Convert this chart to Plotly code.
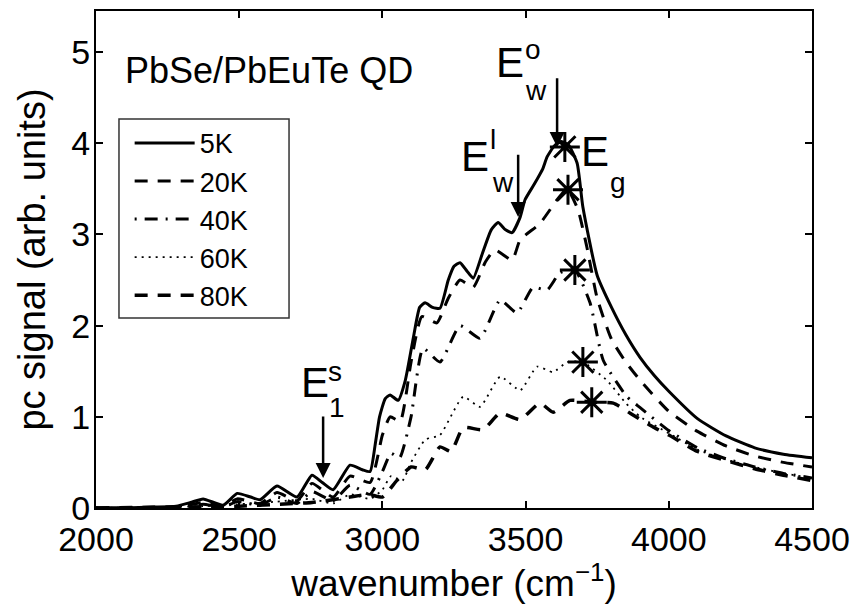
import plotly.graph_objects as go

# ---------------- data ----------------
x_5K = [2000, 2100, 2200, 2280, 2330, 2374, 2444, 2493, 2540, 2573, 2632, 2702, 2754, 2790, 2828,
        2887, 2930, 2957, 2975, 2990, 3010, 3027, 3055, 3080, 3110, 3130, 3149, 3175, 3201, 3230,
        3250, 3271, 3295, 3317, 3350, 3380, 3404, 3430, 3453, 3481, 3498, 3530, 3560, 3575, 3600,
        3625, 3650, 3680, 3700, 3750, 3800, 3850, 3900, 3950, 4000, 4100, 4200, 4300, 4400, 4500]
y_5K = [0.0, 0.0, 0.01, 0.02, 0.06, 0.10, 0.03, 0.16, 0.12, 0.09, 0.24, 0.12, 0.36, 0.28, 0.20,
        0.47, 0.42, 0.40, 0.70, 1.00, 1.20, 1.24, 1.18, 1.40, 1.90, 2.20, 2.25, 2.20, 2.19, 2.50,
        2.65, 2.69, 2.60, 2.52, 2.80, 3.05, 3.13, 3.05, 3.02, 3.19, 3.38, 3.55, 3.72, 3.85, 3.97,
        4.02, 3.98, 3.78, 3.30, 2.55, 2.20, 1.90, 1.65, 1.45, 1.28, 0.98, 0.79, 0.66, 0.59, 0.55]

x_20K = [2000, 2200, 2300, 2374, 2444, 2493, 2573, 2632, 2702, 2754, 2828, 2887, 2957, 3000, 3027,
         3062, 3100, 3138, 3190, 3230, 3271, 3317, 3360, 3393, 3453, 3481, 3550, 3610, 3645, 3683,
         3714, 3750, 3800, 3850, 3900, 4000, 4100, 4200, 4300, 4400, 4500]
y_20K = [0.0, 0.0, 0.02, 0.06, 0.02, 0.10, 0.05, 0.17, 0.08, 0.27, 0.12, 0.35, 0.28, 0.80, 1.00,
         0.95, 1.60, 2.10, 2.03, 2.30, 2.50, 2.42, 2.70, 2.83, 2.72, 2.94, 3.12, 3.38, 3.50, 3.27,
         2.86, 2.30, 1.85, 1.60, 1.40, 1.06, 0.84, 0.68, 0.57, 0.50, 0.45]

x_40K = [2000, 2300, 2374, 2444, 2493, 2573, 2632, 2702, 2754, 2828, 2887, 2957, 3000, 3030, 3060,
         3100, 3142, 3201, 3271, 3341, 3411, 3470, 3526, 3575, 3620, 3672, 3725, 3771, 3854, 3900,
         4000, 4100, 4200, 4300, 4400, 4500]
y_40K = [0.0, 0.01, 0.04, 0.01, 0.07, 0.03, 0.12, 0.05, 0.18, 0.08, 0.25, 0.15, 0.40, 0.60, 0.55,
         1.00, 1.75, 1.60, 2.00, 1.86, 2.28, 2.14, 2.42, 2.39, 2.58, 2.61, 2.25, 1.62, 1.22, 1.10,
         0.85, 0.66, 0.54, 0.45, 0.38, 0.33]

x_60K = [2000, 2374, 2493, 2632, 2754, 2828, 2887, 2957, 3000, 3030, 3070, 3100, 3150, 3201, 3282,
         3341, 3411, 3481, 3540, 3596, 3645, 3700, 3784, 3850, 3900, 4000, 4100, 4200, 4300, 4400, 4500]
y_60K = [0.0, 0.02, 0.04, 0.07, 0.10, 0.05, 0.15, 0.10, 0.20, 0.35, 0.30, 0.50, 0.75, 0.80, 1.22,
         1.11, 1.44, 1.29, 1.55, 1.49, 1.60, 1.60, 1.40, 1.15, 1.00, 0.82, 0.64, 0.53, 0.45, 0.38, 0.33]

x_80K = [2000, 2500, 2632, 2754, 2887, 2950, 3000, 3050, 3100, 3150, 3201, 3240, 3282, 3352, 3411,
         3481, 3550, 3596, 3655, 3731, 3806, 3865, 3950, 4000, 4100, 4200, 4300, 4400, 4500]
y_80K = [0.0, 0.02, 0.04, 0.06, 0.12, 0.15, 0.12, 0.30, 0.45, 0.42, 0.67, 0.62, 0.88, 0.86, 1.04,
         0.97, 1.15, 1.05, 1.18, 1.16, 1.15, 1.04, 0.88, 0.80, 0.62, 0.52, 0.43, 0.36, 0.30]

# E_g markers (stars) on each curve
eg_x = [3637, 3648, 3672, 3700, 3731]
eg_y = [3.96, 3.49, 2.61, 1.60, 1.16]

series_names = ["5K", "20K", "40K", "60K", "80K"]
x_ticks = [2000, 2500, 3000, 3500, 4000, 4500]
y_ticks = [0, 1, 2, 3, 4, 5]

# ---------------- figure ----------------
FONT = "Liberation Sans, Arial, Helvetica, sans-serif"
styles = [
    dict(width=3, dash="solid"),
    dict(width=3, dash="13px,10px"),
    dict(width=3, dash="2px,8px,13px,8px"),
    dict(width=1.8, dash="2px,5px"),
    dict(width=3.5, dash="13px,10px"),
]
xs = [x_5K, x_20K, x_40K, x_60K, x_80K]
ys = [y_5K, y_20K, y_40K, y_60K, y_80K]

fig = go.Figure()
for name, xv, yv, st in zip(series_names, xs, ys, styles):
    fig.add_trace(go.Scatter(x=xv, y=yv, mode="lines", name=name,
                             line=dict(color="black", width=st["width"], dash=st["dash"],
                                       shape="spline", smoothing=0.5)))

fig.add_trace(go.Scatter(x=eg_x, y=eg_y, mode="markers", showlegend=False,
                         marker=dict(symbol="asterisk-open", size=25, color="black",
                                     line=dict(color="black", width=3))))

axis_common = dict(showline=True, linecolor="black", linewidth=2, mirror="allticks",
                   ticks="inside", ticklen=7, tickwidth=1.5, tickcolor="black",
                   showgrid=False, zeroline=False, automargin=False,
                   tickfont=dict(family=FONT, size=34, color="black"))

fig.update_layout(
    template="none",
    width=854, height=610,
    margin=dict(l=96, r=42, t=11, b=102),
    paper_bgcolor="white", plot_bgcolor="white",
    font=dict(family=FONT, color="black"),
    xaxis=dict(range=[2000, 4500], tickvals=x_ticks,
               title=dict(text="wavenumber (cm<sup>−1</sup>)", font=dict(size=37), standoff=8),
               **axis_common),
    yaxis=dict(range=[0, 5.45], tickvals=y_ticks, ticklabelstandoff=-3,
               title=dict(text="pc signal (arb. units)", font=dict(size=38), standoff=14),
               **axis_common),
    legend=dict(x=0.047, y=0.783, xanchor="left", yanchor="top",
                bgcolor="rgba(0,0,0,0)", borderwidth=0,
                font=dict(family=FONT, size=27, color="black"),
                itemwidth=60, tracegroupgap=0),
    showlegend=True,
)

# legend frame (wider box like the original)
fig.add_shape(type="rect", xref="paper", yref="paper", x0=0.0321, x1=0.2696, y0=0.3823, y1=0.7827,
              line=dict(color="#333", width=1.5), fillcolor="white", layer="below")

# arrows (tip at curve feature, tail above)
arrows = [(2793, 0.33, 1.02), (3474, 3.19, 3.89), (3610, 3.96, 4.73)]
for ax_, tip, tail in arrows:
    fig.add_annotation(x=ax_, y=tip, ax=ax_, ay=tail, axref="x", ayref="y", xref="x", yref="y",
                       text="", showarrow=True, arrowhead=2, arrowsize=1.2, arrowwidth=2.5,
                       arrowcolor="black")

def label(x, y, txt, size):
    fig.add_annotation(x=x, y=y, xref="x", yref="y", text=txt, showarrow=False,
                       font=dict(family=FONT, size=size, color="black"),
                       xanchor="center", yanchor="middle")

# E_1^s
label(2765, 1.38, "E", 42); label(2835, 1.50, "s", 28); label(2842, 1.10, "1", 28)
# E_w^l
label(3323, 3.85, "E", 42); label(3386, 4.04, "l", 28); label(3421, 3.57, "w", 28)
# E_w^o
label(3446, 4.89, "E", 42); label(3526, 5.03, "o", 28); label(3537, 4.58, "w", 28)
# E_g
label(3743, 3.91, "E", 42); label(3823, 3.57, "g", 28)

fig.add_annotation(x=2094, y=4.80, xref="x", yref="y", text="PbSe/PbEuTe QD", showarrow=False,
                   xanchor="left", yanchor="middle",
                   font=dict(family=FONT, size=36, color="black"))

fig.write_html("out.html", config={"displayModeBar": False},
               post_script="document.body.style.margin='0';")
